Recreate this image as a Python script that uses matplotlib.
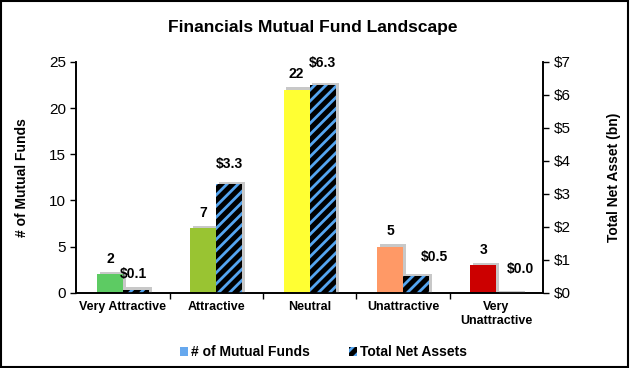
import matplotlib.pyplot as plt
import matplotlib as mpl
import numpy as np
from matplotlib.patches import Rectangle
from matplotlib.ticker import FuncFormatter

# data
categories = ['Very Attractive', 'Attractive', 'Neutral', 'Unattractive', 'Very\nUnattractive']
num_funds = [2, 7, 22, 5, 3]
net_assets = [0.1, 3.3, 6.3, 0.5, 0.0]
fund_labels = ['2', '7', '22', '5', '3']
asset_labels = ['$0.1', '$3.3', '$6.3', '$0.5', '$0.0']
bar_colors = ['#5DCB63', '#99C432', '#FFFF33', '#FF9966', '#CC0000']

mpl.rcParams['font.family'] = 'Liberation Sans'
mpl.rcParams['hatch.linewidth'] = 2.0

fig = plt.figure(figsize=(6.3, 3.68), dpi=100)
fig.patches.append(Rectangle((0.002, 0.003), 0.995, 0.994, transform=fig.transFigure,
                             fill=False, edgecolor='black', linewidth=1.5))

ax = fig.add_axes([0.121, 0.204, 0.741, 0.628])
ax2 = ax.twinx()

x = np.arange(len(categories))
w = 0.28
shadow = '#BBBBBB'

# mutual funds (left axis)
ax.bar(x - w / 2 + 0.03, np.array(num_funds) + 0.25, width=w, color=shadow, alpha=0.8, zorder=1)
ax.bar(x - w / 2, num_funds, width=w, color=bar_colors, zorder=2)

# net assets (right axis)
ax2.bar(x + w / 2 + 0.03, np.array(net_assets) + 0.07, width=w, color=shadow, alpha=0.8, zorder=1)
ax2.bar(x + w / 2, net_assets, width=w, color='black', edgecolor='#55A5F0', hatch='///',
        linewidth=0, zorder=2)

for i, v in enumerate(num_funds):
    ax.annotate(fund_labels[i], (x[i] - w / 2, v), xytext=(0, 6), textcoords='offset points',
                ha='center', va='bottom', fontsize=10, fontweight='bold')
asset_offsets = [(-2, 6), (0, 9), (0, 11), (13, 9), (8, 12)]
for i, v in enumerate(net_assets):
    ax2.annotate(asset_labels[i], (x[i] + w / 2, v), xytext=asset_offsets[i], textcoords='offset points',
                 ha='center', va='bottom', fontsize=10, fontweight='bold')

ax.set_xlim(-0.5, len(categories) - 0.5)
ax.set_ylim(0, 25)
ax.set_yticks([0, 5, 10, 15, 20, 25])
ax2.set_ylim(0, 7)
ax2.set_yticks(range(0, 8))
ax2.yaxis.set_major_formatter(FuncFormatter(lambda v, p: f'${v:.0f}'))

ax.set_xticks(x)
ax.set_xticklabels(categories, fontsize=9, fontweight='bold')
ax.set_xticks(np.arange(0.5, len(categories) - 0.5, 1), minor=True)
ax.tick_params(axis='x', which='major', length=0, pad=6)
ax.tick_params(axis='x', which='minor', length=4, width=1, direction='out')
ax.tick_params(axis='y', labelsize=11, length=4, width=1, colors='black')
ax2.tick_params(axis='y', labelsize=11, length=4, width=1)

for a in (ax, ax2):
    a.spines['top'].set_visible(False)
    for s in ('left', 'right', 'bottom'):
        a.spines[s].set_linewidth(1.2)

ax.set_ylabel('# of Mutual Funds', fontsize=10, fontweight='bold', labelpad=14)
ax2.set_ylabel('Total Net Asset (bn)', fontsize=10, fontweight='bold', labelpad=26)

fig.suptitle('Financials Mutual Fund Landscape', x=0.497, y=0.945, fontsize=12.5, fontweight='bold')

# legend
h1 = Rectangle((0, 0), 1, 1, facecolor='#66A8EE', edgecolor='none')
h2 = Rectangle((0, 0), 1, 1, facecolor='black', edgecolor='#55A5F0', hatch='///', linewidth=0)
fig.legend([h1, h2], ['# of Mutual Funds', 'Total Net Assets'], loc='center', bbox_to_anchor=(0.513, 0.043),
           ncol=2, frameon=False, prop={'weight': 'bold', 'size': 10},
           handlelength=0.6, handleheight=0.6, handletextpad=0.2, columnspacing=2.8)

plt.savefig('out.png', dpi=100)
